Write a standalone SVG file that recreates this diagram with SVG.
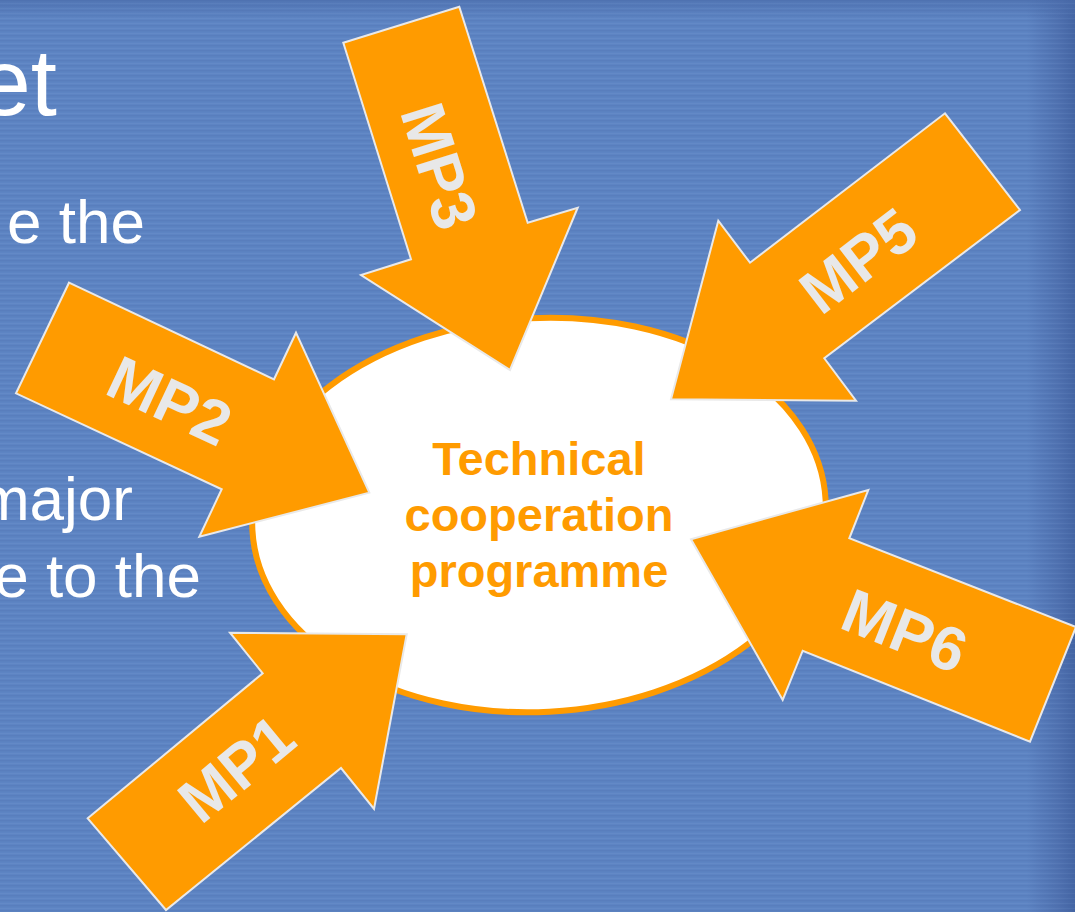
<svg xmlns="http://www.w3.org/2000/svg" width="1075" height="912" viewBox="0 0 1075 912">
  <defs>
    <!-- slide backdrop: flat blue with a darker band on the right edge -->
    <linearGradient id="bgEdge" x1="0" y1="0" x2="1" y2="0">
      <stop offset="0" stop-color="#5d84c3"/>
      <stop offset="0.955" stop-color="#5d84c3"/>
      <stop offset="0.985" stop-color="#4f71b0"/>
      <stop offset="1" stop-color="#4465a4"/>
    </linearGradient>
    <linearGradient id="bgTop" x1="0" y1="0" x2="0" y2="1">
      <stop offset="0" stop-color="#4a6cab" stop-opacity="0.6"/>
      <stop offset="0.02" stop-color="#4a6cab" stop-opacity="0"/>
    </linearGradient>
    <!-- fine horizontal scan lines -->
    <pattern id="stripes" width="8" height="5" patternUnits="userSpaceOnUse">
      <rect x="0" y="0" width="8" height="1.5" fill="#3d5f9e" fill-opacity="0.14"/>
      <rect x="0" y="3" width="8" height="1" fill="#9db6e0" fill-opacity="0.08"/>
    </pattern>
    <style>
      .arrow { fill: #ff9b00; stroke: #e9e9e9; stroke-width: 2; stroke-linejoin: miter; }
      .mp { font-family: "Liberation Sans", Arial, sans-serif; font-weight: bold; font-size: 62px; fill: #e8e8e8; text-anchor: middle; }
      .body { font-family: "Liberation Sans", Arial, sans-serif; fill: #ffffff; text-anchor: end; }
      .hub { font-family: "Liberation Sans", Arial, sans-serif; font-weight: bold; font-size: 47px; fill: #ff9b00; text-anchor: middle; }
    </style>
  </defs>

  <!-- background -->
  <rect x="0" y="0" width="1075" height="912" fill="url(#bgEdge)"/>
  <rect x="0" y="0" width="1075" height="912" fill="url(#bgTop)"/>
  <rect x="0" y="0" width="1075" height="912" fill="url(#stripes)"/>

  <!-- slide text, cut off at the left -->
  <g id="slide-text">
    <text class="body" x="57" y="115" font-size="94">et</text>
    <text class="body" x="145" y="243" font-size="62">e the</text>
    <text class="body" x="133" y="520" font-size="62">major</text>
    <text class="body" x="201" y="597" font-size="62">e to the</text>
  </g>

  <!-- central node -->
  <g id="hub">
    <ellipse cx="539" cy="515" rx="287" ry="197" transform="rotate(-3 539 515)" fill="#ffffff" stroke="#ff9b00" stroke-width="6"/>
    <text class="hub" x="539" y="475">Technical</text>
    <text class="hub" x="539" y="531">cooperation</text>
    <text class="hub" x="539" y="587">programme</text>
  </g>

  <!-- incoming arrows -->
  <g id="connectors">
    <g id="mp1">
      <polygon class="arrow" points="87.7,818.3 262.7,673.3 230,632.7 406.7,634.3 374,809 341,768 166,910"/>
      <text class="mp" transform="translate(236 768) rotate(-39.6)" y="0" dy="0.36em">MP1</text>
    </g>
    <g id="mp2">
      <polygon class="arrow" points="69,282.7 274,379.3 296,332.7 369.3,492.7 199.3,536.7 221.7,489.3 16,393.3"/>
      <text class="mp" transform="translate(170 400) rotate(25.2)" y="0" dy="0.36em">MP2</text>
    </g>
    <g id="mp3">
      <polygon class="arrow" points="343.3,42.7 459.3,6.7 527.7,222.7 577.7,207.7 510,370 361,275 411,259.3"/>
      <text class="mp" transform="translate(440 166) rotate(72.6)" y="0" dy="0.36em">MP3</text>
    </g>
    <g id="mp5">
      <polygon class="arrow" points="945,113.3 1020,210 824.3,358.3 856,400.7 671,399.3 718.3,220.7 750,262.7"/>
      <text class="mp" transform="translate(858 260) rotate(-37.5)" y="0" dy="0.36em">MP5</text>
    </g>
    <g id="mp6">
      <polygon class="arrow" points="691,539.3 868.3,490 849.3,538.3 1076,627 1030,741.7 802.7,650.7 782.7,700"/>
      <text class="mp" transform="translate(905 630) rotate(21.6)" y="0" dy="0.36em">MP6</text>
    </g>
  </g>
</svg>
